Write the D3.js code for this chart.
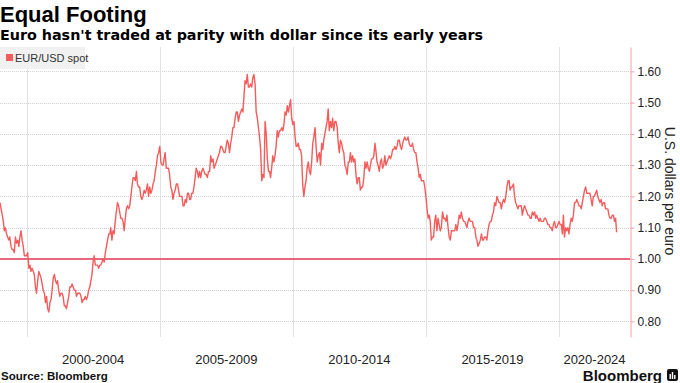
<!DOCTYPE html>
<html>
<head>
<meta charset="utf-8">
<script src="https://cdn.jsdelivr.net/npm/d3@7"></script>
<style>
  html, body { margin: 0; padding: 0; background: #fff; }
  svg { display: block; }
  text { font-family: "Liberation Sans", Arial, sans-serif; }
</style>
</head>
<body>
<svg id="chart" width="680" height="383"></svg>
<script>
const seriesName = "EUR/USD spot";
const firstSample = "1999-01-01";
const spot = [
  /*1999*/ 1.18,1.16, 1.14,1.12, 1.09,1.10, 1.08,1.07, 1.06,1.07, 1.04,1.03, 1.03,1.02, 1.07,1.05, 1.06,1.04, 1.07,1.09, 1.06,1.04, 1.01,1.01,
  /*2000*/ 1.01,1.02, 0.97,0.98, 0.96,0.97, 0.96,0.95, 0.91,0.89, 0.93,0.96, 0.95,0.94, 0.92,0.90, 0.89,0.86, 0.88,0.84, 0.83,0.86, 0.87,0.90,
  /*2001*/ 0.94,0.95, 0.93,0.92, 0.93,0.90, 0.88,0.89, 0.89,0.88, 0.85,0.85, 0.84,0.86, 0.88,0.91, 0.91,0.92, 0.91,0.90, 0.90,0.88, 0.89,0.89,
  /*2002*/ 0.89,0.88, 0.86,0.87, 0.87,0.88, 0.87,0.88, 0.90,0.91, 0.93,0.95, 0.99,1.01, 0.98,0.98, 0.98,0.97, 0.98,0.98, 0.99,1.00, 0.99,1.02,
  /*2003*/ 1.04,1.06, 1.08,1.08, 1.10,1.06, 1.09,1.08, 1.12,1.15, 1.18,1.17, 1.15,1.13, 1.13,1.12, 1.09,1.13, 1.16,1.17, 1.16,1.17, 1.20,1.23,
  /*2004*/ 1.26,1.26, 1.25,1.28, 1.24,1.23, 1.23,1.20, 1.19,1.20, 1.22,1.21, 1.22,1.24, 1.20,1.23, 1.21,1.22, 1.24,1.25, 1.28,1.30, 1.33,1.34,
  /*2005*/ 1.36,1.31, 1.30,1.30, 1.32,1.34, 1.29,1.29, 1.29,1.27, 1.23,1.22, 1.19,1.21, 1.22,1.24, 1.24,1.22, 1.20,1.20, 1.20,1.17, 1.17,1.19,
  /*2006*/ 1.18,1.21, 1.21,1.19, 1.19,1.21, 1.21,1.23, 1.26,1.29, 1.28,1.26, 1.28,1.26, 1.28,1.29, 1.28,1.27, 1.27,1.26, 1.28,1.28, 1.33,1.31,
  /*2007*/ 1.32,1.29, 1.30,1.31, 1.32,1.33, 1.34,1.36, 1.36,1.35, 1.34,1.34, 1.36,1.38, 1.37,1.34, 1.37,1.39, 1.42,1.42, 1.45,1.47, 1.47,1.44,
  /*2008*/ 1.46,1.47, 1.48,1.47, 1.52,1.57, 1.56,1.59, 1.55,1.55, 1.56,1.55, 1.58,1.59, 1.56,1.47, 1.45,1.42, 1.39,1.35, 1.25,1.27, 1.26,1.44,
  /*2009*/ 1.40,1.32, 1.28,1.28, 1.26,1.29, 1.33,1.31, 1.33,1.36, 1.41,1.39, 1.41,1.41, 1.42,1.41, 1.43,1.47, 1.46,1.49, 1.47,1.49, 1.51,1.45,
  /*2010*/ 1.43,1.44, 1.39,1.36, 1.36,1.37, 1.35,1.35, 1.33,1.24, 1.20,1.23, 1.25,1.29, 1.31,1.28, 1.27,1.31, 1.37,1.39, 1.42,1.36, 1.31,1.33,
  /*2011*/ 1.34,1.30, 1.37,1.35, 1.38,1.40, 1.42,1.44, 1.48,1.41, 1.44,1.42, 1.45,1.41, 1.44,1.44, 1.42,1.37, 1.34,1.38, 1.37,1.35, 1.34,1.30,
  /*2012*/ 1.29,1.27, 1.31,1.31, 1.34,1.31, 1.33,1.31, 1.32,1.27, 1.24,1.26, 1.26,1.22, 1.23,1.23, 1.26,1.31, 1.29,1.31, 1.29,1.28, 1.30,1.32,
  /*2013*/ 1.32,1.33, 1.37,1.34, 1.31,1.30, 1.28,1.31, 1.32,1.29, 1.30,1.33, 1.30,1.31, 1.32,1.33, 1.32,1.33, 1.35,1.35, 1.36,1.35, 1.36,1.38,
  /*2014*/ 1.38,1.36, 1.35,1.37, 1.38,1.39, 1.38,1.38, 1.39,1.37, 1.36,1.36, 1.37,1.35, 1.34,1.34, 1.31,1.29, 1.26,1.27, 1.25,1.25, 1.25,1.23,
  /*2015*/ 1.20,1.16, 1.13,1.14, 1.12,1.06, 1.07,1.07, 1.12,1.14, 1.09,1.13, 1.11,1.09, 1.10,1.15, 1.13,1.13, 1.12,1.14, 1.10,1.07, 1.06,1.09,
  /*2016*/ 1.09,1.09, 1.09,1.11, 1.09,1.11, 1.14,1.13, 1.15,1.13, 1.12,1.12, 1.11,1.10, 1.12,1.13, 1.12,1.12, 1.12,1.10, 1.10,1.07, 1.06,1.04,
  /*2017*/ 1.05,1.06, 1.08,1.06, 1.06,1.07, 1.07,1.06, 1.09,1.11, 1.12,1.12, 1.14,1.15, 1.18,1.17, 1.20,1.19, 1.18,1.18, 1.16,1.18, 1.19,1.18,
  /*2018*/ 1.20,1.23, 1.25,1.25, 1.22,1.23, 1.23,1.24, 1.20,1.18, 1.17,1.16, 1.17,1.17, 1.17,1.14, 1.16,1.17, 1.16,1.15, 1.14,1.14, 1.13,1.13,
  /*2019*/ 1.15,1.14, 1.15,1.13, 1.14,1.13, 1.12,1.13, 1.12,1.12, 1.12,1.13, 1.13,1.12, 1.11,1.11, 1.10,1.10, 1.09,1.11, 1.12,1.10, 1.10,1.11,
  /*2020*/ 1.12,1.11, 1.11,1.08, 1.14,1.07, 1.10,1.09, 1.10,1.08, 1.11,1.13, 1.12,1.14, 1.18,1.18, 1.19,1.18, 1.17,1.17, 1.16,1.18, 1.20,1.22,
  /*2021*/ 1.23,1.21, 1.21,1.21, 1.21,1.19, 1.17,1.20, 1.20,1.21, 1.22,1.20, 1.19,1.18, 1.19,1.17, 1.18,1.18, 1.16,1.16, 1.16,1.14, 1.13,1.13,
  /*2022*/ 1.14,1.14, 1.12,1.13, 1.085
];
const yTicks = [0.80, 0.90, 1.00, 1.10, 1.20, 1.30, 1.40, 1.50, 1.60];
const periodLabels = ["2000-2004", "2005-2009", "2010-2014", "2015-2019", "2020-2024"];
const periodStarts = [2000, 2005, 2010, 2015, 2020];
const parityValue = 1.00;

// ---- Build dated points ----
const start = d3.timeParse("%Y-%m-%d")(firstSample);
const points = spot.map((v, i) => {
  const m = d3.timeMonth.offset(start, Math.floor(i / 2));
  const d = i % 2 === 0 ? m : d3.timeDay.offset(m, 15);
  return { date: d, value: v };
});

// ---- Layout ----
const svg = d3.select("#chart");
const plotLeft = 0, plotRight = 630, plotTop = 47, plotBottom = 337;

const x = d3.scaleTime()
  .domain([new Date(1999, 0, 1), new Date(2022, 8, 1)])
  .range([plotLeft, plotRight]);
const y = d3.scaleLinear()
  .domain([0.75, 1.678])
  .range([plotBottom, plotTop]);

// Title & subtitle
svg.append("text").attr("x", 0).attr("y", 22)
  .attr("font-size", 22).attr("font-weight", "bold").attr("fill", "#000")
  .text("Equal Footing");
svg.append("text").attr("x", 0).attr("y", 40)
  .style("font-family", "'DejaVu Sans', sans-serif")
  .attr("font-size", 14.3).attr("font-weight", "bold").attr("fill", "#000")
  .text("Euro hasn't traded at parity with dollar since its early years");

// Horizontal gridlines
svg.append("g").selectAll("line").data(yTicks).join("line")
  .attr("x1", plotLeft).attr("x2", plotRight)
  .attr("y1", d => Math.round(y(d)) + 0.5).attr("y2", d => Math.round(y(d)) + 0.5)
  .attr("stroke", "#cfcfcf").attr("stroke-dasharray", "1,1");

// Vertical gridlines at period starts
svg.append("g").selectAll("line").data(periodStarts).join("line")
  .attr("x1", d => Math.round(x(new Date(d, 0, 1))) + 0.5)
  .attr("x2", d => Math.round(x(new Date(d, 0, 1))) + 0.5)
  .attr("y1", plotTop).attr("y2", plotBottom)
  .attr("stroke", "#e2e2e2");

// Legend
const lg = svg.append("g");
lg.append("rect").attr("x", 0).attr("y", 47).attr("width", 85).attr("height", 22).attr("fill", "#f1f1f1");
lg.append("rect").attr("x", 6).attr("y", 54).attr("width", 7).attr("height", 7).attr("fill", "#f45b5b");
lg.append("text").attr("x", 15).attr("y", 62).attr("font-size", 11).attr("fill", "#333").text(seriesName);

// Parity line
svg.append("line")
  .attr("x1", plotLeft).attr("x2", plotRight)
  .attr("y1", y(parityValue)).attr("y2", y(parityValue))
  .attr("stroke", "#e8677a").attr("stroke-width", 2);

// Series line
const line = d3.line().x(d => x(d.date)).y(d => y(d.value));
svg.append("path").datum(points)
  .attr("d", line).attr("fill", "none")
  .attr("stroke", "#f45b5b").attr("stroke-width", 1.4).attr("stroke-linejoin", "round");

// Right axis
const yAxis = d3.axisRight(y).tickValues(yTicks).tickFormat(d3.format(".2f")).tickSize(4).tickSizeOuter(0).tickPadding(3);
const ga = svg.append("g").attr("transform", `translate(${plotRight + 0.5},0)`).call(yAxis);
ga.select(".domain").attr("stroke", "#f2a0a8");
ga.selectAll(".tick line").attr("stroke", "#f2a0a8");
ga.selectAll(".tick text").attr("font-size", 12).attr("fill", "#222")
  .style("font-family", "'Liberation Sans', Arial, sans-serif");

// Axis title
svg.append("text")
  .attr("transform", "translate(665,191) rotate(90)")
  .attr("text-anchor", "middle").attr("font-size", 14).attr("fill", "#222")
  .text("U.S. dollars per euro");

// Period labels (centered within each period's visible span)
const domEnd = x.domain()[1];
svg.append("g").selectAll("text").data(periodLabels).join("text")
  .attr("x", (d, i) => {
    const s = new Date(periodStarts[i], 0, 1);
    const e = new Date(periodStarts[i] + 5, 0, 1);
    return (x(s) + x(e < domEnd ? e : domEnd)) / 2;
  })
  .attr("y", 364).attr("text-anchor", "middle").attr("font-size", 13).attr("fill", "#222")
  .text(d => d);

// Source
svg.append("text").attr("x", 1).attr("y", 380)
  .attr("font-size", 11.5).attr("font-weight", "bold").attr("fill", "#111")
  .text("Source: Bloomberg");

// Bloomberg wordmark
svg.append("text").attr("x", 662).attr("y", 381).attr("text-anchor", "end")
  .attr("font-size", 15).attr("font-weight", "bold").attr("fill", "#111")
  .text("Bloomberg");
const icon = svg.append("g").attr("transform", "translate(667,369)");
icon.append("rect").attr("width", 11).attr("height", 12).attr("rx", 2).attr("fill", "#111");
icon.selectAll("rect.bar").data([5, 7, 4]).join("rect").attr("class", "bar")
  .attr("x", (d, i) => 2.5 + i * 2.3).attr("y", d => 10 - d).attr("width", 1.4).attr("height", d => d)
  .attr("fill", "#fff");
</script>
</body>
</html>
